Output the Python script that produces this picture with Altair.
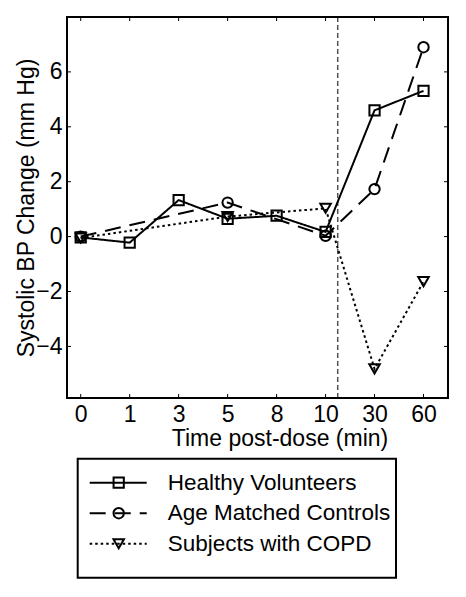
import json
import altair as alt
import pandas as pd

# ---- data ----
times = ["0", "1", "3", "5", "8", "10", "30", "60"]
series = ["Healthy Volunteers", "Age Matched Controls", "Subjects with COPD"]
healthy = [-0.03, -0.22, 1.33, 0.65, 0.76, 0.17, 4.60, 5.31]
age_matched = [0.00, None, None, 1.24, None, 0.03, 1.73, 6.90]
copd = [-0.05, None, None, 0.73, None, 1.03, -4.82, -1.64]
y_ticks = [-4, -2, 0, 2, 4, 6]
break_pos = [5.25]  # dashed vertical marker between 10 and 30 min (category index units)

rows = []
for name, vals in zip(series, [healthy, age_matched, copd]):
    for i, v in enumerate(vals):
        if v is not None:
            rows.append({"series": name, "idx": i, "value": v})
df = pd.DataFrame(rows)

W, H = 381, 381
FONT = "Liberation Sans"
FS = 23
LFS = 22.5

x_scale = alt.Scale(domain=[-0.28, 7.5], nice=False, zero=False)
y_scale = alt.Scale(domain=[-5.88, 8], nice=False, zero=False)
dash_scale = alt.Scale(domain=series, range=[[1, 0], [16, 9], [2.5, 3]])
legend_dash_scale = alt.Scale(domain=series, range=[[1, 0], [11, 11, 14, 11], [2.5, 3]])
shape_scale = alt.Scale(domain=series, range=["square", "circle", "triangle-down"])
size_scale = alt.Scale(domain=series, range=[105, 110, 175])

label_expr = json.dumps(times) + "[datum.value]"

x_axis = alt.Axis(values=list(range(len(times))), labelExpr=label_expr,
                  labelPadding=5, title="Time post-dose (min)",
                  titleX=212.5, titleY=47, titleBaseline="alphabetic",
                  titleAlign="center")
y_axis = alt.Axis(values=y_ticks, labelPadding=5,
                  title="Systolic BP Change (mm Hg)",
                  titleX=-34, titleY=H / 2, titleAngle=270,
                  titleBaseline="alphabetic", titleAlign="center")

X = alt.X("idx:Q", scale=x_scale, axis=x_axis)
Y = alt.Y("value:Q", scale=y_scale, axis=y_axis)

base = alt.Chart(df)
lines = base.mark_line(color="black", strokeWidth=2).encode(
    x=X, y=Y,
    strokeDash=alt.StrokeDash("series:N", scale=dash_scale, legend=None),
    detail="series:N",
    order="idx:Q",
)
points = base.mark_point(filled=False, color="black", strokeWidth=2, opacity=1).encode(
    x=X, y=Y,
    shape=alt.Shape("series:N", scale=shape_scale, legend=None),
    size=alt.Size("series:N", scale=size_scale, legend=None),
)
vline = alt.Chart(pd.DataFrame({"idx": break_pos})).mark_rule(
    color="black", strokeWidth=1, strokeDash=[5, 3]
).encode(x=X)

xt = pd.DataFrame({"idx": list(range(len(times)))})
yt = pd.DataFrame({"value": y_ticks})
tick_style = dict(color="black", strokeWidth=1)
xb = alt.Chart(xt).mark_rule(**tick_style).encode(x=X, y=alt.value(H), y2=alt.value(H - 4))
xtp = alt.Chart(xt).mark_rule(**tick_style).encode(x=X, y=alt.value(0), y2=alt.value(4))
yl = alt.Chart(yt).mark_rule(**tick_style).encode(y=Y, x=alt.value(0), x2=alt.value(4))
yr = alt.Chart(yt).mark_rule(**tick_style).encode(y=Y, x=alt.value(W), x2=alt.value(W - 4))

# ---- legend (drawn below the plot, rows placed by row number) ----
leg = pd.DataFrame({"series": series, "row": list(range(len(series)))})
LY = alt.Y("ly:Q", scale=None)
lbase = alt.Chart(leg).transform_calculate(ly="465.7 + 30.5 * datum.row")
box = alt.Chart(pd.DataFrame({"series": series[:1]})).mark_rect(
    filled=False, stroke="black", strokeWidth=2, fillOpacity=0
).encode(x=alt.value(10.7), x2=alt.value(329), y=alt.value(441.7), y2=alt.value(560.7))
lrule = lbase.mark_rule(color="black", strokeWidth=2).encode(
    x=alt.value(22.7), x2=alt.value(79.7), y=LY,
    strokeDash=alt.StrokeDash("series:N", scale=legend_dash_scale, legend=None))
lpoint = lbase.mark_point(filled=False, color="black", strokeWidth=2, opacity=1).encode(
    x=alt.value(51.7), y=LY,
    shape=alt.Shape("series:N", scale=shape_scale, legend=None),
    size=alt.Size("series:N", scale=size_scale, legend=None))
ltext = lbase.mark_text(align="left", baseline="middle", font=FONT,
                        fontSize=LFS, color="black").encode(
    x=alt.value(100.7), y=LY, text="series:N")

chart = alt.layer(lines, points, vline, xb, xtp, yl, yr, box, lrule, lpoint, ltext).properties(
    width=W, height=H,
    autosize=alt.AutoSizeParams(type="none"),
    padding={"left": 59, "top": 9, "right": 10, "bottom": 190},
).configure_view(stroke="black", strokeWidth=2).configure_axis(
    grid=False, domain=False, ticks=False, tickSize=0,
    labelFont=FONT, titleFont=FONT, labelFontSize=FS, titleFontSize=FS,
    titleFontWeight="normal", labelColor="black", titleColor="black",
)

chart.save("out.html", embed_options={"renderer": "svg", "actions": False})
